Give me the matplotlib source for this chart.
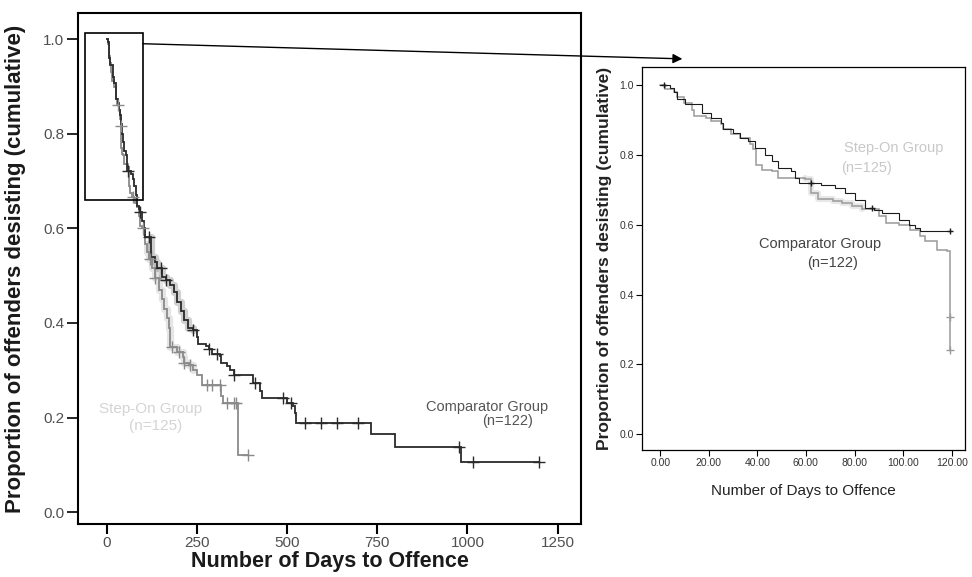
import matplotlib
matplotlib.use('Agg')
import matplotlib.pyplot as plt
import matplotlib.patches as patches
import numpy as np

plt.rcParams['font.family'] = ['Liberation Sans', 'DejaVu Sans']

# Kaplan-Meier steps: (day of drop, proportion after drop)
# first 107 days are the same in the main chart and the 120-day inset
comp_early_t = [4, 5.5, 7, 10, 17, 21, 25, 26, 30, 33, 36, 39, 43, 46, 48.5, 54, 55.5, 57,
                66, 72, 76, 80, 84.5, 88, 91.5, 98.5, 102.5, 105, 107]
comp_early_s = [0.993, 0.979, 0.96, 0.945, 0.92, 0.907, 0.893, 0.874, 0.864, 0.85, 0.84, 0.82,
                0.80, 0.783, 0.763, 0.754, 0.735, 0.72, 0.714, 0.705, 0.69, 0.67, 0.648, 0.641,
                0.634, 0.615, 0.60, 0.591, 0.581]
comp_late_t = [122, 133, 140, 153, 165, 175, 185, 195, 205, 214, 224, 239, 249, 254, 274, 283,
               293, 313, 318, 333, 342, 352, 406, 426, 431, 500, 516, 521, 526, 734, 800, 982]
comp_late_s = [0.54, 0.528, 0.516, 0.498, 0.49, 0.48, 0.465, 0.444, 0.425, 0.407, 0.389, 0.385,
               0.371, 0.356, 0.352, 0.345, 0.334, 0.33, 0.316, 0.308, 0.301, 0.29, 0.272, 0.257,
               0.242, 0.231, 0.224, 0.209, 0.189, 0.165, 0.138, 0.106]
comp_end = 1198
comp_censor = [60, 92, 118, 150, 165, 239, 283, 305, 352, 410, 490, 512, 549, 593, 638, 697,
               977, 1016, 1198]

step_early_t = [2, 5.5, 7, 9.7, 13, 14, 18.7, 21, 25, 26, 29, 33, 37, 38, 39.5, 42, 46, 48.5,
                59.5, 62, 65, 71, 75, 79, 83, 90, 93, 98.5, 103, 107]
step_early_s = [0.989, 0.979, 0.965, 0.95, 0.93, 0.912, 0.907, 0.898, 0.888, 0.874, 0.86, 0.85,
                0.83, 0.816, 0.77, 0.758, 0.754, 0.735, 0.73, 0.69, 0.675, 0.667, 0.663, 0.653,
                0.644, 0.625, 0.605, 0.60, 0.585, 0.567]
step_late_t = [112, 118, 125, 135, 145, 152, 160, 167, 172, 176, 195, 210, 214, 229, 239, 249,
               264, 318, 323, 364]
step_late_s = [0.55, 0.535, 0.515, 0.495, 0.47, 0.45, 0.43, 0.41, 0.39, 0.349, 0.338, 0.327,
               0.316, 0.312, 0.301, 0.29, 0.268, 0.246, 0.231, 0.121]
step_end = 392
step_censor = [30, 39, 74, 100, 120, 135, 180, 200, 215, 230, 278, 293, 313, 333, 352, 357, 392]

# inset (0-120 days)
comp_inset_end = 119.5
comp_inset_censor = [1.5, 62, 87, 119.5]
step_inset_tail_t = [109, 114, 118, 119.3, 119.4, 119.5]
step_inset_tail_s = [0.553, 0.529, 0.524, 0.519, 0.337, 0.241]
step_inset_end = 119.5
step_inset_censor = [119.4, 119.5]

main_xticks = [0, 250, 500, 750, 1000, 1250]
main_yticks = [0.0, 0.2, 0.4, 0.6, 0.8, 1.0]
inset_xticks = [0, 20, 40, 60, 80, 100, 120]
inset_xlabels = ['0.00', '20.00', '40.00', '60.00', '80.00', '100.00', '120.00']


def step_xy(t, s, t_end):
    t = np.r_[0.0, t, t_end]
    s = np.r_[1.0, s, s[-1]]
    x2 = np.repeat(t, 2)[1:]
    y2 = np.repeat(s, 2)[:-1]
    return x2, y2, t, s


def km(ax, t, s, t_end, censor, color, lw, ms, blur=None):
    x2, y2, tt, ss = step_xy(t, s, t_end)
    ax.plot(x2, y2, color=color, lw=lw, solid_joinstyle='miter', zorder=3)
    if blur is not None:
        m = (x2 >= blur[0]) & (x2 <= blur[1])
        ax.plot(np.where(m, x2, np.nan), np.where(m, y2, np.nan), color=color,
                lw=lw * 4, alpha=0.22, solid_capstyle='round', zorder=2)
    idx = np.searchsorted(tt, censor, side='right') - 1
    ax.plot(censor, ss[idx], ls='none', marker='+', ms=ms, mew=1, color=color, zorder=4)


fig = plt.figure(figsize=(9.72, 5.77), dpi=100)

# ---------------- main chart ----------------
ax = fig.add_axes([0.0802, 0.0919, 0.5175, 0.8856])
for axis in ['top', 'bottom', 'left', 'right']:
    ax.spines[axis].set_linewidth(1.5)

km(ax, step_early_t + step_late_t, step_early_s + step_late_s, step_end, step_censor,
   '#8a8a8a', 1.3, 8, blur=(110, 240))
km(ax, comp_early_t + comp_late_t, comp_early_s + comp_late_s, comp_end, comp_censor,
   '#2a2a2a', 1.3, 8, blur=(120, 240))

ax.set_xlim(-80, 1315)
ax.set_ylim(-0.025, 1.055)
ax.set_xticks(main_xticks)
ax.set_yticks(main_yticks)
ax.yaxis.set_major_formatter(matplotlib.ticker.FormatStrFormatter('%.1f'))
ax.tick_params(axis='x', direction='out', length=7, width=1.5, labelsize=11,
               labelcolor='#505050', pad=2)
ax.tick_params(axis='y', direction='out', length=8, width=1.2, labelsize=11,
               labelcolor='#505050', pad=2)

ax.set_xlabel('Number of Days to Offence', fontsize=15.5, fontweight='bold', color='#1a1a1a')
ax.set_ylabel('Proportion of offenders desisting (cumulative)', fontsize=16,
              fontweight='bold', color='#1a1a1a')
ax.xaxis.set_label_coords(0.5, -0.053)
ax.yaxis.set_label_coords(-0.104, 0.5)

ax.text(1055, 0.222, 'Comparator Group', fontsize=10.5, color='#555555', ha='center', va='center')
ax.text(1112, 0.193, '(n=122)', fontsize=10.5, color='#555555', ha='center', va='center')
ax.text(121, 0.217, 'Step-On Group', fontsize=11, color='#d4d4d4', ha='center', va='center')
ax.text(136, 0.183, '(n=125)', fontsize=11, color='#d4d4d4', ha='center', va='center')

# zoom box and arrow to the inset
ax.add_patch(patches.Rectangle((-60, 0.66), 160, 0.352, fill=False, lw=1.2,
                               ec='black', clip_on=False, zorder=5))
ax.annotate('', xy=(0.702, 0.898), xycoords='figure fraction', xytext=(100, 0.99),
            textcoords='data', annotation_clip=False,
            arrowprops=dict(arrowstyle='-|>', color='black', lw=1.0, mutation_scale=14,
                            shrinkA=0, shrinkB=0))

# ---------------- inset ----------------
ai = fig.add_axes([0.6605, 0.2201, 0.3323, 0.6638])
for axis in ['top', 'bottom', 'left', 'right']:
    ai.spines[axis].set_linewidth(0.9)

km(ai, step_early_t + step_inset_tail_t, step_early_s + step_inset_tail_s, step_inset_end,
   step_inset_censor, '#9a9a9a', 1.1, 6, blur=(58, 88))
km(ai, comp_early_t, comp_early_s, comp_inset_end, comp_inset_censor, '#1a1a1a', 0.8, 5)

ai.set_xlim(-7.5, 125.5)
ai.set_ylim(-0.045, 1.052)
ai.set_xticks(inset_xticks)
ai.set_xticklabels(inset_xlabels)
ai.set_yticks(main_yticks)
ai.yaxis.set_major_formatter(matplotlib.ticker.FormatStrFormatter('%.1f'))
ai.tick_params(axis='both', direction='out', length=4, width=0.8, labelsize=7.5,
               labelcolor='#333333', pad=2)

ai.set_xlabel('Number of Days to Offence', fontsize=11, color='#222222')
ai.set_ylabel('Proportion of offenders desisting (cumulative)', fontsize=12.5,
              fontweight='bold', color='#222222')
ai.xaxis.set_label_coords(0.5, -0.088)
ai.yaxis.set_label_coords(-0.093, 0.5)

ai.text(96, 0.819, 'Step-On Group', fontsize=10.5, color='#c8c8c8', ha='center', va='center')
ai.text(85, 0.764, '(n=125)', fontsize=10.5, color='#c8c8c8', ha='center', va='center')
ai.text(66, 0.546, 'Comparator Group', fontsize=10.5, color='#444444', ha='center', va='center')
ai.text(71, 0.49, '(n=122)', fontsize=10.5, color='#444444', ha='center', va='center')

plt.savefig('out.png', dpi=100)
